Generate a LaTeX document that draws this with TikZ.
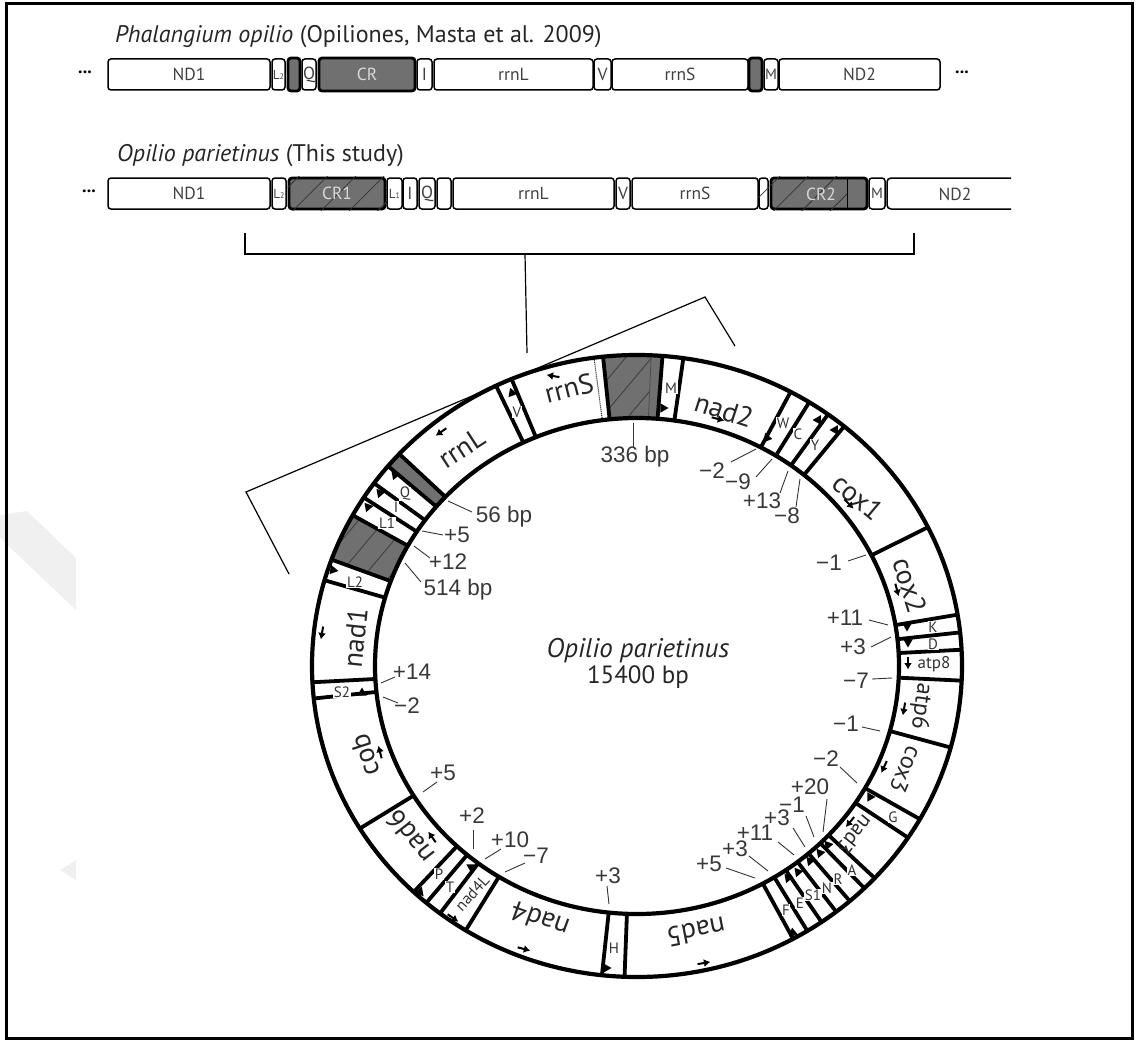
\documentclass[tikz,border=0pt]{standalone}
\usepackage{fontspec}
\setmainfont{PT Sans}
\newfontfamily\numfont{Liberation Sans}
\usetikzlibrary{patterns.meta,arrows.meta}
\def\rp#1#2{({637+(262+63*(#2))*cos(#1)},{666-(248+63*(#2))*sin(#1)})}
\tikzset{
  genebox/.style={draw=black,line width=1.5pt,rounded corners=3pt,fill=white,inner sep=0pt,font=\fontsize{17.5}{19}\selectfont,text=black!75},
  crbox/.style={genebox,fill=black!56,line width=2.8pt,text=white!85!black},
  dots/.style={font=\fontsize{18}{18}\selectfont\bfseries,inner sep=0pt},
  crtext/.style={text=white!85!black,font=\fontsize{17.5}{19}\selectfont,inner sep=0pt},
  ringline/.style={line width=3.8pt},
  ringedge/.style={line width=4.2pt},
  leader/.style={line width=0.9pt,black!80},
  numlabel/.style={font=\numfont\fontsize{22.5}{24}\selectfont,text=black!78,inner sep=0pt},
  glabel/.style={font=\fontsize{28}{30}\selectfont,text=black!85,inner sep=0pt},
  glabelsmall/.style={glabel,font=\fontsize{24}{26}\selectfont},
  tlabel/.style={font=\fontsize{15}{16}\selectfont,text=black!80,inner sep=0.6pt,fill=white},
  dirarrow/.style={-{Latex[length=6.5pt,width=8pt]},line width=2pt},
  bracket/.style={line width=1.6pt},
  ttl/.style={font=\fontsize{24}{26}\selectfont,anchor=west,inner sep=0pt,text=black!85},
  hatchbar/.style={pattern={Lines[angle=45,distance=20pt,line width=.8pt]},pattern color=black!80},
  hatchring/.style={pattern={Lines[angle=50,distance=20pt,line width=.9pt]},pattern color=black!75}
}
\newcommand{\gbox}[7][genebox]{\node[#1,minimum width={(#4-#3)*1pt},minimum height={(#6-#5)*1pt}] (#2) at ({(#3+#4)/2},{(#5+#6)/2}) {#7};}
\newcommand{\seg}[1]{\draw[ringline] \rp{#1}{0} -- \rp{#1}{1};}
\newcommand{\bandpath}[2]{plot[domain=#1:#2,samples=16] ({637+325*cos(\x)},{666-311*sin(\x)}) -- plot[domain=#2:#1,samples=16] ({637+262*cos(\x)},{666-248*sin(\x)}) -- cycle}
\newcommand{\lead}[5]{\coordinate (#1a) at (#2,#3);\coordinate (#1b) at (#4,#5);\draw[leader] (#1a) -- (#1b);}
\newcommand{\num}[4]{\node[numlabel] (#1) at (#2,#3) {#4};}
\newcommand{\gname}[5]{\node[glabel,rotate=#4] (#1) at (#2,#3) {#5};}
\newcommand{\tname}[4]{\node[tlabel] (#1) at (#2,#3) {#4};}
\newcommand{\arr}[3]{\draw[dirarrow] (#1,#2) ++({#3}:-6.5) -- ++({#3}:13);}
\newcommand{\tri}[3]{\fill (#1,#2) ++({#3}:5.5) -- ++({#3+150}:9.5) -- ++({#3+270}:9.5) -- cycle;}
\newcommand{\Ls}[1]{\fontsize{13}{14}\selectfont L{\fontsize{8}{8}\selectfont #1}}
\begin{document}
\begin{tikzpicture}[x=1pt,y=-1pt]
\useasboundingbox (0,0) rectangle (1136,1041);
% watermark
\fill[black!6] (0,515) -- (27,511) -- (76,558) -- (76,610) -- (0,538) -- cycle;
\fill[black!6] (76,860) -- (76,880) -- (60,870) -- cycle;
% frame
\node[draw=black,line width=3.4pt,minimum width=1126pt,minimum height=1035pt,inner sep=0pt] (frame) at (569.5,521) {};
% titles
\node[ttl] (t1) at (115,37) {\textit{Phalangium opilio} (Opiliones, Masta et al. 2009)};
\node[ttl] (t2) at (117,156) {\textit{Opilio parietinus} (This study)};
% row 1
\node[dots] (d1) at (85,72) {...};
\node[dots] (d2) at (962,72) {...};
\gbox{a1}{108}{270}{59}{90}{ND1}
\gbox{a2}{272}{285}{59}{90}{\Ls{2}}
\gbox[crbox]{a3}{288}{300}{58}{91}{}
\gbox{a4}{302}{316}{59}{90}{Q}
\gbox[crbox]{a5}{319}{415}{58}{91}{CR}
\gbox{a6}{417}{432}{59}{90}{I}
\gbox{a7}{434}{593}{59}{90}{rrnL}
\gbox{a8}{594}{611}{59}{90}{V}
\gbox{a9}{612}{748}{59}{90}{rrnS}
\gbox[crbox]{a10}{749}{762}{58}{91}{}
\gbox{a11}{764}{778}{59}{90}{\fontsize{15}{16}\selectfont M}
\gbox{a12}{779}{940}{59}{90}{ND2}
% row 2
\node[dots] (d3) at (89,191) {...};
\gbox{b1}{108}{270}{178}{209}{ND1}
\gbox{b2}{272}{286}{178}{209}{\Ls{2}}
\gbox[crbox]{b3}{289}{385}{178}{209}{}
\path[hatchbar] (b3.south west) rectangle (b3.north east);
\node[crtext] (b3t) at (b3) {CR1};
\gbox{b4}{387}{402}{178}{209}{\Ls{1}}
\gbox{b5}{403}{417}{178}{209}{I}
\gbox{b6}{419}{435}{178}{209}{Q}
\gbox{b7}{437}{451}{178}{209}{}
\gbox{b8}{453}{614}{178}{209}{rrnL}
\gbox{b9}{616}{630}{178}{209}{V}
\gbox{b10}{632}{758}{178}{209}{rrnS}
\gbox{b11}{759}{768}{178}{209}{}
\path[hatchbar] (b11.south west) rectangle (b11.north east);
\gbox[crbox]{b12}{771}{867}{178}{209}{}
\path[hatchbar] (b12.south west) rectangle ([xshift=-21pt]b12.north east);
\draw[line width=1pt] ([xshift=-21pt]b12.south east) -- ([xshift=-21pt]b12.north east);
\node[crtext] (b12t) at (821,194) {CR2};
\gbox{b13}{869}{885}{178}{209}{\fontsize{15}{16}\selectfont M}
\draw[line width=1.5pt] (1011,178) -- (891,178) to[out=180,in=90] (887,182) -- (887,205) to[out=-90,in=180] (891,209) -- (1011,209);
\node[font=\fontsize{17.5}{19}\selectfont,text=black!75] (b14) at (955,194) {ND2};
% bracket and stem
\coordinate (bl) at (245,233); \coordinate (blc) at (245,254);
\coordinate (brc) at (914,254); \coordinate (br) at (914,233);
\draw[bracket] (bl) -- (blc) -- (brc) -- (br);
\coordinate (st) at (525,254); \coordinate (sb) at (527,353);
\draw[line width=1.2pt] (st) -- (sb);
\coordinate (k1) at (289,574); \coordinate (k2) at (246,492);
\coordinate (k3) at (705,297); \coordinate (k4) at (735,346);
\draw[line width=1.2pt] (k1) -- (k2) -- (k3) -- (k4);
% ring fills
\fill[black!56] \bandpath{85.5}{96};
\path[hatchring] \bandpath{87.5}{96};
\draw[line width=.8pt,black!70] \rp{87.5}{0} -- \rp{87.5}{1};
\fill[black!56] \bandpath{137}{140};
\fill[black!56] \bandpath{151}{160};
\path[hatchring] \bandpath{151}{160};
\draw[line width=1pt,densely dotted] \rp{97.6}{0} -- \rp{97.6}{1};
% ring edges
\draw[ringedge] (637,666) ellipse [x radius=325,y radius=311];
\draw[ringedge] (637,666) ellipse [x radius=262,y radius=248];
% boundaries
\foreach \a in {61.8,58,54,50.4,26.5,9.5,6.2,3,-2.7,-15.2,-29.5,-33.5,-43,-45.6,-49.1,-52.2,-55.4,-58.4,-61.3,-92.2,-96.2,-121.8,-127.3,-130.4,-133.4,-148.5,
  85.5,81.8,96,112.7,115.7,137,140,144,147.2,151,160,164,183,186}{\seg{\a}}
% gene names
\gname{nad2}{724}{410}{-18}{nad2}
\gname{rrnS}{569}{388}{14}{rrnS}
\gname{rrnL}{462}{448}{33}{rrnL}
\gname{cox1}{858}{497}{-40}{cox1}
\gname{cox2}{910}{585}{-73}{cox2}
\node[glabelsmall,rotate=-98] (atp6) at (921,706) {atp6};
\node[glabelsmall,rotate=-113] (cox3) at (906,770) {cox3};
\node[glabel,font=\fontsize{21}{23}\selectfont,rotate=-129] (nad3) at (855,835) {nad3};
\gname{nad5}{696}{932}{191}{nad5}
\gname{nad4}{540}{920}{160}{nad4}
\gname{nad6}{410}{837}{128}{nad6}
\gname{cob}{365}{755}{108}{cob}
\gname{nad1}{355}{638}{84}{nad1}
\node[tlabel,font=\fontsize{17}{18}\selectfont,fill=none] (atp8) at (934,664) {atp8};
\node[tlabel,font=\fontsize{16}{17}\selectfont,rotate=48,fill=none] (nad4L) at (472,893) {nad4L};
% direction arrows
\arr{441}{432}{145}\arr{553}{376}{190}\arr{718}{419}{15}\arr{849}{504}{45}
\arr{897}{590}{75}\arr{908}{663}{90}\arr{904}{709}{100}\arr{884}{767}{115}
\arr{850}{822}{130}\arr{704}{963}{-10}\arr{524}{949}{15}\arr{453}{918}{35}
\arr{432}{837}{-125}\arr{380}{752}{-105}\arr{322}{633}{100}
% tRNA strand marks
\tri{512}{393}{-110}\tri{663}{408}{0}\tri{767}{438}{130}\tri{818}{420}{-60}\tri{835}{430}{-60}
\tri{907}{626}{90}\tri{908}{642}{90}\tri{333}{570}{-110}\tri{395}{475}{-130}\tri{380}{493}{-130}\tri{368}{507}{-130}
\tri{362}{693}{-90}\tri{606}{968}{0}\tri{793}{933}{20}\tri{788}{878}{-130}\tri{798}{872}{-130}\tri{810}{861}{-130}
\tri{820}{853}{-130}\tri{828}{845}{-130}\tri{870}{797}{-120}\tri{420}{892}{50}\tri{471}{867}{-30}
% tRNA names
\tname{tV}{517}{412}{V}\tname{tM}{671}{388}{M}\tname{tW}{783}{423}{W}\tname{tC}{798}{434}{C}\tname{tY}{815}{445}{Y}
\tname{tK}{933}{627}{K}\tname{tD}{933}{644}{D}\tname{tQ}{405}{494}{Q}\tname{tI}{396}{507}{I}\tname{tL1}{387}{523}{L1}
\tname{tL2}{355}{582}{L2}\tname{tS2}{342}{692}{S2}\tname{tH}{614}{948}{H}\tname{tF}{786}{910}{F}\tname{tE}{800}{903}{E}
\tname{tS1}{813}{895}{S1}\tname{tN}{827}{888}{N}\tname{tR}{838}{879}{R}\tname{tA}{852}{870}{A}\tname{tG}{893}{817}{G}
\tname{tP}{439}{874}{P}\tname{tT}{450}{887}{T}
% numbers and leaders
\num{n1}{635}{457}{336 bp}\lead{l1}{633}{423}{633}{447}
\num{n2}{712}{471}{−2}\lead{l2}{756}{449}{731}{462}
\num{n3}{738}{482}{−9}\lead{l3}{772}{459}{756}{477}
\num{n4}{762}{501}{+13}\lead{l4}{788}{471}{780}{493}
\num{n5}{787}{516}{−8}\lead{l5}{800}{479}{796}{507}
\num{n6}{504}{517}{56 bp}\lead{l6}{448}{501}{472}{512}
\num{n7}{457}{535}{+5}\lead{l7}{422}{531}{443}{535}
\num{n8}{448}{562}{+12}\lead{l8}{414}{546}{430}{558}
\num{n9}{458}{590}{514 bp}\lead{l9}{405}{563}{421}{582}
\num{n10}{829}{563}{−1}\lead{l10}{848}{561}{866}{555}
\num{n11}{845}{618}{+11}\lead{l11}{869}{620}{888}{625}
\num{n12}{853}{647}{+3}\lead{l12}{871}{647}{891}{637}
\num{n13}{856}{681}{−7}\lead{l13}{872}{679}{892}{678}
\num{n14}{846}{724}{−1}\lead{l14}{862}{727}{880}{731}
\num{n15}{826}{759}{−2}\lead{l15}{840}{767}{857}{783}
\num{n16}{810}{787}{+20}\lead{l16}{827}{799}{823}{832}
\num{n17}{792}{805}{−1}\lead{l17}{806}{816}{814}{837}
\num{n18}{777}{818}{+3}\lead{l18}{793}{828}{805}{847}
\num{n19}{755}{833}{+11}\lead{l19}{778}{842}{794}{855}
\num{n20}{735}{849}{+3}\lead{l20}{749}{856}{768}{871}
\num{n21}{709}{864}{+5}\lead{l21}{726}{868}{755}{878}
\num{n22}{443}{773}{+5}\lead{l22}{437}{782}{423}{792}
\num{n23}{472}{816}{+2}\lead{l23}{473}{830}{473}{849}
\num{n24}{510}{840}{+10}\lead{l24}{501}{849}{485}{859}
\num{n25}{536}{856}{−7}\lead{l25}{525}{863}{505}{872}
\num{n26}{608}{876}{+3}\lead{l26}{607}{886}{609}{904}
\num{n27}{412}{672}{+14}\lead{l27}{381}{683}{395}{677}
\num{n28}{407}{706}{−2}\lead{l28}{383}{697}{398}{703}
% centre
\node[font=\itshape\fontsize{27}{29}\selectfont,text=black!85,inner sep=0pt] (c1) at (638,651) {Opilio parietinus};
\node[font=\fontsize{25}{27}\selectfont,text=black!85,inner sep=0pt] (c2) at (638,677) {15400 bp};
\end{tikzpicture}
\end{document}
